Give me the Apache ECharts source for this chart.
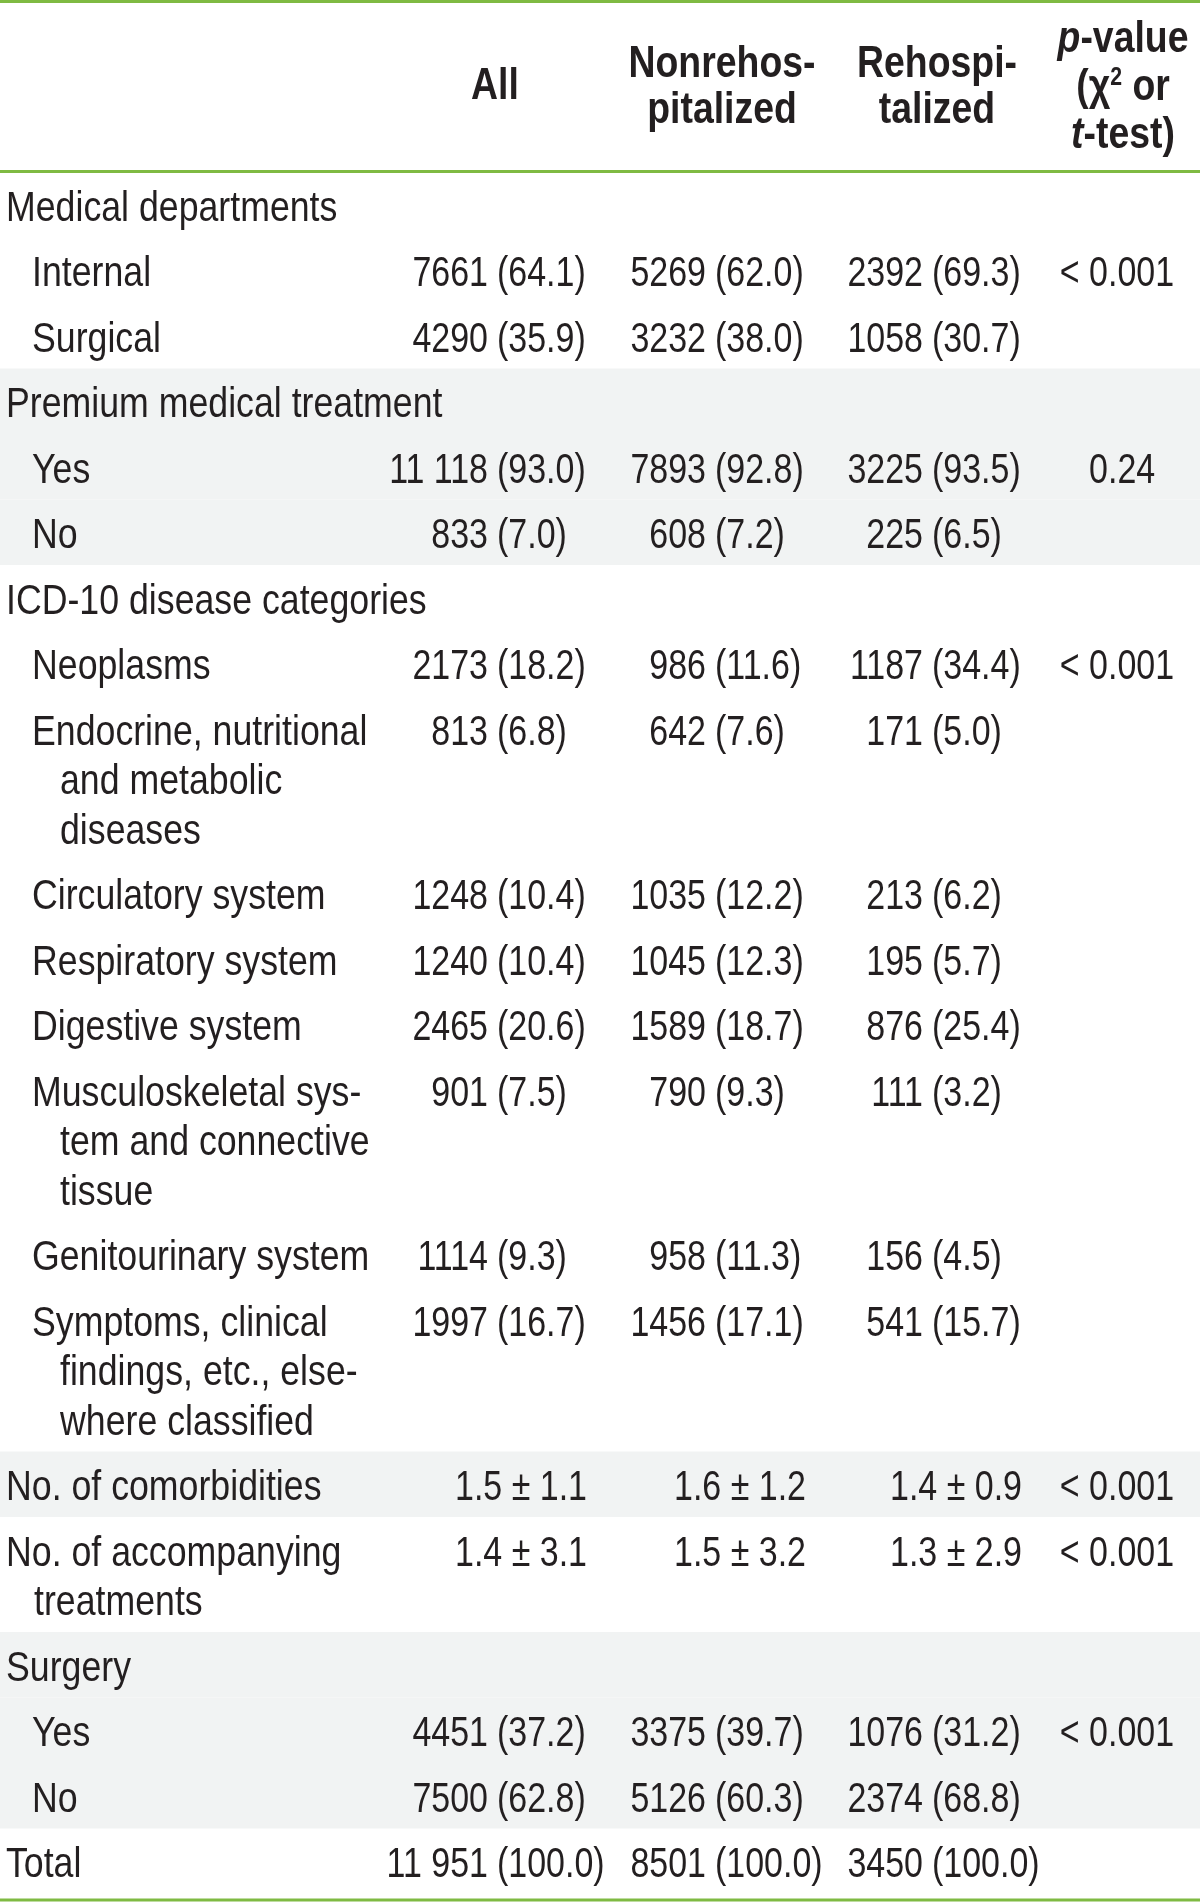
<!DOCTYPE html>
<html>
<head>
<meta charset="utf-8">
<script src="https://cdn.jsdelivr.net/npm/echarts@6/dist/echarts.min.js"></script>
<style>
html,body{margin:0;padding:0;background:#fff;}
#chart{width:1200px;height:1902px;}
</style>
</head>
<body>
<div id="chart"></div>
<script>
// ---------- DATA ----------
const rowLabels = [
  'Medical departments', 'Internal', 'Surgical',
  'Premium medical treatment', 'Yes', 'No',
  'ICD-10 disease categories', 'Neoplasms',
  'Endocrine, nutritional\nand metabolic\ndiseases',
  'Circulatory system', 'Respiratory system', 'Digestive system',
  'Musculoskeletal sys-\ntem and connective\ntissue',
  'Genitourinary system',
  'Symptoms, clinical\nfindings, etc., else-\nwhere classified',
  'No. of comorbidities',
  'No. of accompanying\ntreatments',
  'Surgery', 'Yes', 'No',
  'Total'
];
const rowLevel = [0,1,1, 0,1,1, 0,1,1,1,1,1,1,1,1, 0, 0, 0,1,1, 0];
const shadedRows = [3,4,5, 15, 17,18,19];

const allN   = [null,7661,4290, null,11118,833, null,2173,813,1248,1240,2465,901,1114,1997, null,null, null,4451,7500, 11951];
const allPct = [null,64.1,35.9, null,93.0,7.0,  null,18.2,6.8,10.4,10.4,20.6,7.5,9.3,16.7,   null,null, null,37.2,62.8, 100.0];
const nonN   = [null,5269,3232, null,7893,608,  null,986,642,1035,1045,1589,790,958,1456,    null,null, null,3375,5126, 8501];
const nonPct = [null,62.0,38.0, null,92.8,7.2,  null,11.6,7.6,12.2,12.3,18.7,9.3,11.3,17.1,  null,null, null,39.7,60.3, 100.0];
const reN    = [null,2392,1058, null,3225,225,  null,1187,171,213,195,876,111,156,541,       null,null, null,1076,2374, 3450];
const rePct  = [null,69.3,30.7, null,93.5,6.5,  null,34.4,5.0,6.2,5.7,25.4,3.2,4.5,15.7,     null,null, null,31.2,68.8, 100.0];

// mean ± SD rows (No. of comorbidities, No. of accompanying treatments)
const meanRows = [15, 16];
const allMean = [1.5, 1.4], allSd = [1.1, 3.1];
const nonMean = [1.6, 1.5], nonSd = [1.2, 3.2];
const reMean  = [1.4, 1.3], reSd  = [0.9, 2.9];

const pValues = ['', '<0.001', '', '', '0.24', '', '', '<0.001', '', '', '', '', '', '', '', '<0.001', '<0.001', '', '<0.001', '', ''];

// ---------- LAYOUT ----------
const W = 1200, H = 1902;
const BODY_TOP = 172, ROW_H = 65.5, EXTRA_LINE = 49.5, FIRST_LINE = 37;
const TEXT = '#231f20', GREEN = '#7fba42', BAND = '#f1f3f3';
const FAM = "'Liberation Sans', Arial, sans-serif";
const labelFont = "42px " + FAM, LABEL_SX = 0.85;
const numFont = "43px " + FAM, NUM_SX = 0.79;
const headFont = "bold 44px " + FAM, HEAD_SX = 0.85;

const countRight = [488, 706, 923];
const pctLeft = [497, 715, 932];
const meanRight = [587, 806, 1022];
const pDecimal = 1108;
const labelX = [6, 32], CONT_INDENT = 28;

const rowTop = [], rowHeight = [];
(function () {
  let y = BODY_TOP;
  rowLabels.forEach(function (l, i) {
    const n = l.split('\n').length;
    rowTop.push(y);
    rowHeight.push(ROW_H + EXTRA_LINE * (n - 1));
    y += rowHeight[i];
  });
})();

function fmtN(n) {
  const s = String(n);
  return n >= 10000 ? s.slice(0, -3) + ' ' + s.slice(-3) : s;
}

function txt(api, xv, yv, text, font, align, sx) {
  const p = api.coord([xv, yv]);
  return {
    type: 'text', x: p[0], y: p[1], scaleX: sx,
    style: { text: text, font: font, fill: TEXT, align: align, verticalAlign: 'middle' }
  };
}

const chart = echarts.init(document.getElementById('chart'), null, { renderer: 'canvas' });

const option = {
  animation: false,
  backgroundColor: '#fff',
  grid: { left: 0, right: 0, top: 0, bottom: 0 },
  xAxis: { type: 'value', min: 0, max: W, show: false },
  yAxis: { type: 'value', min: 0, max: H, inverse: true, show: false },
  series: [
    // shaded bands
    {
      type: 'custom', coordinateSystem: 'cartesian2d', silent: true,
      data: shadedRows.map(function (r) { return [r]; }),
      renderItem: function (params, api) {
        const r = api.value(0);
        const p0 = api.coord([0, rowTop[r]]);
        const p1 = api.coord([W, rowTop[r] + rowHeight[r]]);
        return { type: 'rect', shape: { x: p0[0], y: p0[1], width: p1[0] - p0[0], height: p1[1] - p0[1] }, style: { fill: BAND } };
      }
    },
    // rules
    {
      type: 'custom', coordinateSystem: 'cartesian2d', silent: true,
      data: [[1.5], [BODY_TOP - 0.5], [H - 2]],
      renderItem: function (params, api) {
        const y = api.value(0);
        const p0 = api.coord([0, y]);
        const p1 = api.coord([W, y]);
        return { type: 'line', shape: { x1: p0[0], y1: p0[1], x2: p1[0], y2: p1[1] }, style: { stroke: GREEN, lineWidth: 3 } };
      }
    },
    // header
    {
      type: 'custom', coordinateSystem: 'cartesian2d', silent: true,
      data: [[0]],
      renderItem: function (params, api) {
        const ch = [];
        ch.push(txt(api, 495, 87, 'All', headFont, 'center', HEAD_SX));
        ch.push(txt(api, 722, 65, 'Nonrehos-', headFont, 'center', HEAD_SX));
        ch.push(txt(api, 722, 111, 'pitalized', headFont, 'center', HEAD_SX));
        ch.push(txt(api, 937, 65, 'Rehospi-', headFont, 'center', HEAD_SX));
        ch.push(txt(api, 937, 111, 'talized', headFont, 'center', HEAD_SX));
        const rich = {
          i: { font: "italic bold 44px " + FAM, fill: TEXT },
          b: { font: headFont, fill: TEXT },
          s: { font: "bold 25px " + FAM, fill: TEXT, verticalAlign: 'top', lineHeight: 34 }
        };
        [['{i|p}{b|-value}', 40], ['{b|(\u03c7}{s|2}{b| or}', 88], ['{i|t}{b|-test)}', 136]].forEach(function (l) {
          const p = api.coord([1123, l[1]]);
          ch.push({ type: 'text', x: p[0], y: p[1], scaleX: HEAD_SX, style: { text: l[0], rich: rich, align: 'center', verticalAlign: 'middle', font: headFont, fill: TEXT } });
        });
        return { type: 'group', children: ch };
      }
    },
    // body cells
    {
      type: 'custom', coordinateSystem: 'cartesian2d', silent: true,
      data: rowLabels.map(function (l, i) { return [i]; }),
      renderItem: function (params, api) {
        const r = api.value(0);
        const ch = [];
        const lines = rowLabels[r].split('\n');
        const base = labelX[rowLevel[r]];
        const yc = rowTop[r] + FIRST_LINE;
        lines.forEach(function (line, k) {
          ch.push(txt(api, k === 0 ? base : base + CONT_INDENT, yc + EXTRA_LINE * k, line, labelFont, 'left', LABEL_SX));
        });
        const ns = [allN, nonN, reN], ps = [allPct, nonPct, rePct];
        for (let c = 0; c < 3; c++) {
          if (ns[c][r] != null) {
            ch.push(txt(api, countRight[c], yc, fmtN(ns[c][r]), numFont, 'right', NUM_SX));
            ch.push(txt(api, pctLeft[c], yc, '(' + ps[c][r].toFixed(1) + ')', numFont, 'left', NUM_SX));
          }
        }
        const mi = meanRows.indexOf(r);
        if (mi >= 0) {
          const ms = [allMean, nonMean, reMean], ss = [allSd, nonSd, reSd];
          for (let c = 0; c < 3; c++) {
            ch.push(txt(api, meanRight[c], yc, ms[c][mi].toFixed(1) + ' \u00b1 ' + ss[c][mi].toFixed(1), numFont, 'right', NUM_SX));
          }
        }
        if (pValues[r]) {
          const pv = pValues[r].replace('<', '< ');
          const dot = pv.indexOf('.');
          ch.push(txt(api, pDecimal, yc, pv.slice(0, dot), numFont, 'right', NUM_SX));
          ch.push(txt(api, pDecimal, yc, pv.slice(dot), numFont, 'left', NUM_SX));
        }
        return { type: 'group', children: ch };
      }
    }
  ]
};
chart.setOption(option);
</script>
</body>
</html>
